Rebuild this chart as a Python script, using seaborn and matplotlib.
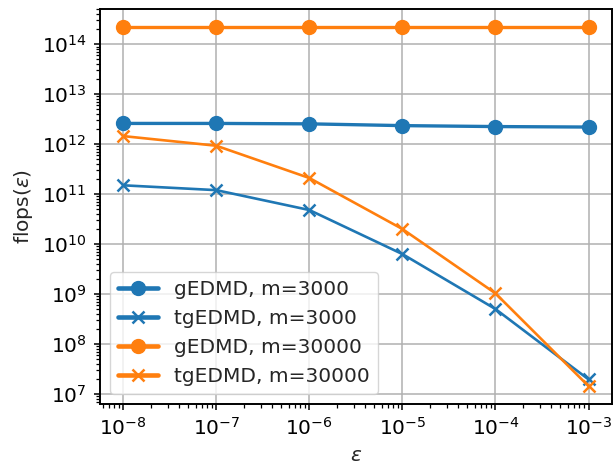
import numpy as np
import matplotlib
matplotlib.use("Agg")
import matplotlib.pyplot as plt
import seaborn as sns

eps = [1e-8, 1e-7, 1e-6, 1e-5, 1e-4, 1e-3]
gedmd_3000 = [2.6e12, 2.6e12, 2.55e12, 2.35e12, 2.25e12, 2.2e12]
tgedmd_3000 = [1.5e11, 1.2e11, 4.8e10, 6.3e9, 5.0e8, 1.95e7]
gedmd_30000 = [2.26e14, 2.26e14, 2.26e14, 2.26e14, 2.26e14, 2.26e14]
tgedmd_30000 = [1.45e12, 9.3e11, 2.1e11, 2.0e10, 1.03e9, 1.43e7]

blue = "#1f77b4"
orange = "#ff7f0e"

sns.set_theme(style="ticks", rc={
    "font.size": 14.5, "axes.labelsize": 14.5,
    "xtick.labelsize": 14.5, "ytick.labelsize": 14.5, "legend.fontsize": 14.5,
    "mathtext.fontset": "dejavusans",
    "axes.linewidth": 1.4, "axes.edgecolor": "black",
    "xtick.major.size": 4.6, "ytick.major.size": 4.6,
    "xtick.minor.size": 2.6, "ytick.minor.size": 2.6,
    "xtick.major.width": 1.1, "ytick.major.width": 1.1,
    "xtick.minor.width": 0.9, "ytick.minor.width": 0.9,
    "xtick.major.pad": 4.9, "ytick.major.pad": 4.9,
    "xtick.color": "black", "ytick.color": "black",
    "axes.labelpad": 5.0,
})

fig, ax = plt.subplots(figsize=(6.13, 4.65), dpi=100)

series = [
    ("gEDMD, m=3000", gedmd_3000, blue, "o", 2.4),
    ("tgEDMD, m=3000", tgedmd_3000, blue, "x", 1.9),
    ("gEDMD, m=30000", gedmd_30000, orange, "o", 2.4),
    ("tgEDMD, m=30000", tgedmd_30000, orange, "x", 1.9),
]
for label, vals, col, mk, lw in series:
    sns.lineplot(x=eps, y=vals, ax=ax, color=col, marker=mk, lw=lw,
                 markersize=10 if mk == "o" else 9,
                 markeredgecolor=col, markeredgewidth=1 if mk == "o" else 1.8,
                 label=label)

ax.set_xscale("log")
ax.set_yscale("log")
ax.grid(True, which="major", color="#b0b0b0", lw=1.1)
ax.set_xlabel(r"$\varepsilon$")
ax.set_ylabel(r"flops($\varepsilon$)")

leg = ax.legend(loc="lower left", frameon=True, fancybox=True, framealpha=0.8,
                edgecolor="#cccccc", handlelength=2.0)
for h in leg.get_lines():
    h.set_linewidth(3.3)

fig.subplots_adjust(left=0.163, right=0.998, top=0.9815, bottom=0.131)
fig.savefig("out.png", dpi=100)
